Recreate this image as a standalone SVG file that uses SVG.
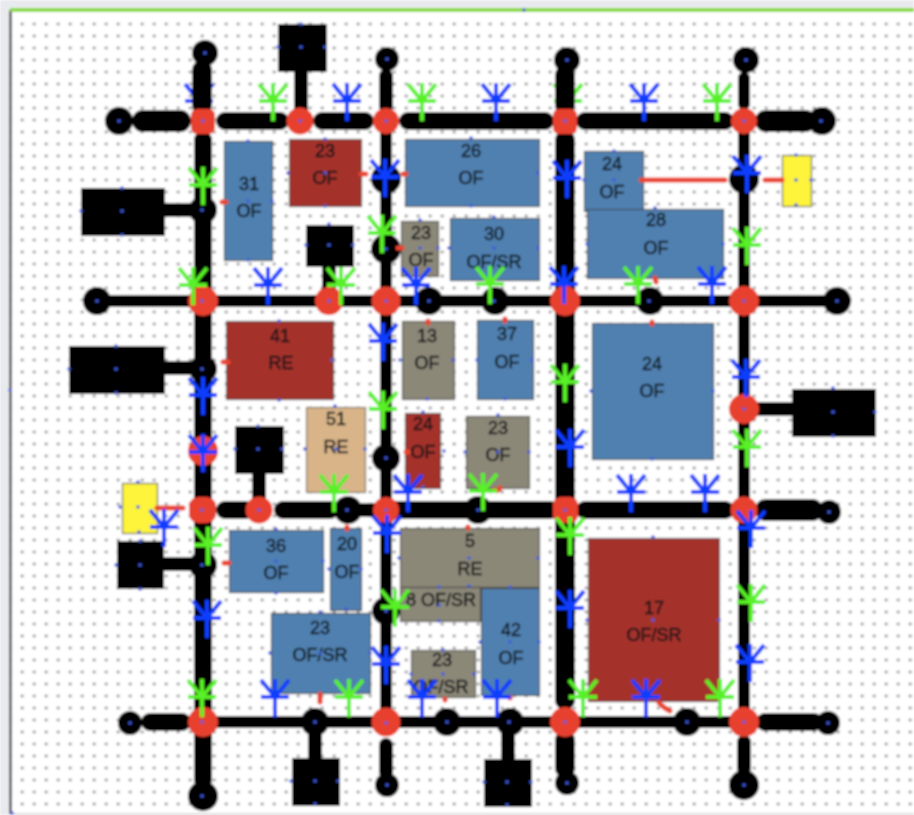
<svg xmlns="http://www.w3.org/2000/svg" width="914" height="815" viewBox="0 0 914 815">
<style>
.bg{fill:#e8eaee}
.sheet{fill:#fff}
.b{fill:#5080b0;stroke:#45494e;stroke-width:1.200}
.r{fill:#a4322c;stroke:#5e4a48;stroke-width:1.200}
.g{fill:#8c8878;stroke:#4c4c48;stroke-width:1.200}
.t{fill:#d8b488;stroke:#7a7060;stroke-width:1.200}
.y{fill:#fdf43a;stroke:#5c5c40;stroke-width:1.200}
.k{fill:#000}
.j{fill:#e8402e}
.roads line{stroke:#000;stroke-linecap:round;fill:none}
.w12{stroke-width:12}.w14{stroke-width:14}.w18{stroke-width:18}.w20{stroke-width:20}.w22{stroke-width:22}
.red path{stroke:#ea4530;stroke-width:5;fill:none;stroke-linecap:round}
.ag{stroke:#58f028}.ab{stroke:#0c3cff}
.ag,.ab{fill:none;stroke-width:4}
text{font-family:"Liberation Sans",Arial,sans-serif;font-size:18px;fill:#101418;stroke:#101418;stroke-width:0.500;text-anchor:middle}
.h circle{fill:#3f5ce0}
</style>
<defs>
<pattern id="dots" x="0" y="6" width="12" height="12" patternUnits="userSpaceOnUse"><rect x="8.700" y="4.700" width="3" height="2.600" fill="#9a9a9a"/></pattern>
<path id="ant" d="M0,0V-38M-14,-37L0,-20L14,-37M-14,-20H14"/>
<filter id="soft" x="0" y="0" width="100%" height="100%"><feGaussianBlur stdDeviation="0.8"/></filter>
</defs>
<g filter="url(#soft)">
<rect class="bg" width="914" height="815"/>
<rect class="sheet" x="10" y="10" width="904" height="804"/>
<rect x="10" y="18" width="904" height="796" fill="url(#dots)"/>
<path d="M10.500,10V814" stroke="#444" stroke-width="2.500" fill="none"/>
<path d="M10,10H914" stroke="#7fd81e" stroke-width="3.500" fill="none"/>
<path d="M10,814H914" stroke="#c0c0c0" stroke-width="1" fill="none"/>

<g id="hidden-antennas"><use href="#ant" class="ab" x="199" y="121"/><use href="#ant" class="ag" x="568" y="121"/></g>

<g id="connectors" class="roads">
<line class="w22" x1="143" y1="121" x2="180" y2="121"/>
<line class="w18" x1="225" y1="121" x2="280" y2="121"/>
<line class="w18" x1="322" y1="121" x2="365" y2="121"/>
<line class="w18" x1="408" y1="121" x2="545" y2="121"/>
<line class="w18" x1="585" y1="121" x2="725" y2="121"/>
<line class="w22" x1="766" y1="121" x2="805" y2="121"/>
<line class="w12" x1="110" y1="301" x2="825" y2="301"/>
<line class="w18" x1="225" y1="510" x2="245" y2="510"/>
<line class="w18" x1="283" y1="510" x2="330" y2="510"/>
<line class="w14" x1="360" y1="510" x2="380" y2="510"/>
<line class="w18" x1="395" y1="510" x2="550" y2="510"/>
<line class="w18" x1="585" y1="510" x2="725" y2="510"/>
<line class="w22" x1="766" y1="510" x2="812" y2="510"/>
<line class="w18" x1="150" y1="722" x2="182" y2="722"/>
<line class="w12" x1="203" y1="722" x2="744" y2="722"/>
<line class="w18" x1="765" y1="722" x2="814" y2="722"/>
<line class="w20" x1="202" y1="70" x2="202" y2="105"/>
<line class="w18" x1="203" y1="140" x2="203" y2="780"/>
<line class="w14" x1="386" y1="76" x2="386" y2="106"/>
<line class="w12" x1="386" y1="121" x2="386" y2="722"/>
<line class="w14" x1="386" y1="745" x2="386" y2="772"/>
<line class="w20" x1="565" y1="75" x2="565" y2="105"/>
<line class="w20" x1="565" y1="140" x2="565" y2="700"/>
<line class="w20" x1="565" y1="740" x2="565" y2="768"/>
<line class="w12" x1="744" y1="78" x2="744" y2="104"/>
<line class="w12" x1="744" y1="121" x2="744" y2="722"/>
<line class="w14" x1="744" y1="742" x2="744" y2="768"/>
<line class="w14" x1="301" y1="72" x2="301" y2="110"/>
<line class="w14" x1="165" y1="210" x2="203" y2="210"/>
<line class="w14" x1="329" y1="267" x2="329" y2="300"/>
<line class="w14" x1="165" y1="368" x2="203" y2="368"/>
<line class="w14" x1="744" y1="409" x2="795" y2="409"/>
<line class="w14" x1="259" y1="474" x2="259" y2="500"/>
<line class="w14" x1="164" y1="564" x2="203" y2="564"/>
<line class="w14" x1="315" y1="722" x2="315" y2="760"/>
<line class="w14" x1="508" y1="722" x2="508" y2="760"/>
</g>

<g id="n31"><rect class="b" x="224.500" y="141.500" width="48" height="119"/><text x="249" y="190">31</text><text x="249" y="217">OF</text></g>
<g id="n23a"><rect class="r" x="289.500" y="139.500" width="72" height="67"/><text x="325" y="157">23</text><text x="325" y="184">OF</text></g>
<g id="n26"><rect class="b" x="405.500" y="139.500" width="134" height="67"/><text x="471" y="157">26</text><text x="471" y="184">OF</text></g>
<g id="n24a"><rect class="b" x="584.500" y="151.500" width="59" height="60"/><text x="612" y="170">24</text><text x="612" y="198">OF</text></g>
<g id="n28"><rect class="b" x="587.500" y="209.500" width="136" height="69"/><text x="656" y="226">28</text><text x="656" y="254">OF</text></g>
<g id="n23b"><rect class="g" x="401.500" y="221.500" width="37" height="55"/><text x="421" y="239">23</text><text x="421" y="266">OF</text></g>
<g id="n30"><rect class="b" x="450.500" y="218.500" width="89" height="62"/><text x="494" y="240">30</text><text x="494" y="268">OF/SR</text></g>
<g id="n41"><rect class="r" x="226.500" y="321.500" width="107" height="78"/><text x="280" y="342">41</text><text x="281" y="369">RE</text></g>
<g id="n13"><rect class="g" x="402.500" y="321.500" width="52" height="78"/><text x="427" y="342">13</text><text x="427" y="369">OF</text></g>
<g id="n37"><rect class="b" x="477.500" y="320.500" width="56" height="79"/><text x="507" y="340">37</text><text x="507" y="368">OF</text></g>
<g id="n24b"><rect class="b" x="592.500" y="323.500" width="121" height="136"/><text x="652" y="370">24</text><text x="652" y="397">OF</text></g>
<g id="n51"><rect class="t" x="306.500" y="407.500" width="59" height="85"/><text x="336" y="425">51</text><text x="336" y="453">RE</text></g>
<g id="n24c"><rect class="r" x="405.500" y="413.500" width="35" height="75"/><text x="423" y="430">24</text><text x="423" y="458">OF</text></g>
<g id="n23c"><rect class="g" x="466.500" y="416.500" width="63" height="72"/><text x="498" y="434">23</text><text x="498" y="461">OF</text></g>
<g id="n36"><rect class="b" x="229.500" y="530.500" width="94" height="62"/><text x="276" y="552">36</text><text x="276" y="579">OF</text></g>
<g id="n20"><rect class="b" x="330.500" y="528.500" width="31" height="82"/><text x="347" y="550">20</text><text x="347" y="578">OF</text></g>
<g id="n5"><rect class="g" x="400.500" y="528.500" width="139" height="59"/><text x="470" y="547">5</text><text x="470" y="575">RE</text></g>
<g id="n8"><rect class="g" x="400.500" y="587.500" width="80" height="34"/><text x="441" y="606">8 OF/SR</text></g>
<g id="n23d"><rect class="b" x="271.500" y="613.500" width="99" height="80"/><text x="320" y="634">23</text><text x="320" y="661">OF/SR</text></g>
<g id="n42"><rect class="b" x="481.500" y="588.500" width="58" height="107"/><text x="511" y="636">42</text><text x="511" y="664">OF</text></g>
<g id="n17"><rect class="r" x="588.500" y="538.500" width="131" height="163"/><text x="654" y="614">17</text><text x="654" y="641">OF/SR</text></g>
<g id="n23e"><rect class="g" x="411.500" y="650.500" width="64" height="47"/><text x="442" y="666">23</text><text x="441" y="693">OF/SR</text></g>
<g id="y1"><rect class="y" x="782.500" y="155.500" width="29" height="51"/></g>
<g id="y2"><rect class="y" x="122.500" y="483.500" width="35" height="50"/></g>

<g id="blocks">
<rect class="k" x="278" y="24" width="49" height="48"/>
<rect class="k" x="81" y="188" width="84" height="48"/>
<rect class="k" x="306" y="225" width="48" height="42"/>
<rect class="k" x="69" y="346" width="96" height="48"/>
<rect class="k" x="792" y="389" width="84" height="48"/>
<rect class="k" x="235" y="426" width="49" height="48"/>
<rect class="k" x="117" y="541" width="47" height="48"/>
<rect class="k" x="292" y="758" width="48" height="48"/>
<rect class="k" x="484" y="759" width="48" height="48"/>
</g>

<g id="ends">
<circle class="k" cx="205" cy="53" r="13"/><circle class="k" cx="387" cy="59" r="12"/><circle class="k" cx="567" cy="60" r="13"/><circle class="k" cx="746" cy="60" r="13"/>
<circle class="k" cx="119" cy="121" r="14"/><circle class="k" cx="822" cy="121" r="14"/><circle class="k" cx="97" cy="301" r="14"/><circle class="k" cx="837" cy="301" r="14"/>
<circle class="k" cx="203" cy="210" r="14"/><circle class="k" cx="386" cy="179" r="15"/><circle class="k" cx="386" cy="249" r="15"/><circle class="k" cx="429" cy="301" r="14"/><circle class="k" cx="495" cy="301" r="14"/><circle class="k" cx="650" cy="301" r="14"/><circle class="k" cx="744" cy="179" r="15"/>
<circle class="k" cx="203" cy="369" r="14"/><circle class="k" cx="386" cy="458" r="14"/><circle class="k" cx="348" cy="510" r="14"/><circle class="k" cx="478" cy="510" r="14"/><circle class="k" cx="829" cy="512" r="12"/>
<circle class="k" cx="203" cy="565" r="14"/><circle class="k" cx="386" cy="611" r="14"/><circle class="k" cx="130" cy="723" r="12"/><circle class="k" cx="315" cy="722" r="14"/><circle class="k" cx="447" cy="722" r="14"/><circle class="k" cx="510" cy="722" r="14"/><circle class="k" cx="687" cy="722" r="14"/><circle class="k" cx="828" cy="723" r="12"/>
<circle class="k" cx="203" cy="796" r="15"/><circle class="k" cx="387" cy="785" r="12"/><circle class="k" cx="567" cy="783" r="12"/><circle class="k" cx="744" cy="785" r="15"/>
</g>

<g id="junctions">
<rect class="j" x="191" y="109" width="24" height="25" rx="6"/><circle class="j" cx="300" cy="121" r="13.500"/><circle class="j" cx="386" cy="121" r="13"/><rect class="j" x="553" y="109" width="24" height="25" rx="6"/><circle class="j" cx="744" cy="121" r="13"/>
<circle class="j" cx="203" cy="301" r="15"/><circle class="j" cx="329" cy="301" r="14"/><circle class="j" cx="386" cy="301" r="14.500"/><circle class="j" cx="565" cy="301" r="15"/><circle class="j" cx="744" cy="301" r="15"/><circle class="j" cx="744" cy="409" r="15"/>
<circle class="j" cx="203" cy="451" r="15"/><rect class="j" x="189" y="497" width="27" height="26" rx="9"/><circle class="j" cx="259" cy="510" r="13.500"/><circle class="j" cx="386" cy="510" r="13"/><rect class="j" x="553" y="497" width="25" height="26" rx="8"/><circle class="j" cx="744" cy="510" r="13.500"/>
<circle class="j" cx="203" cy="722" r="15"/><circle class="j" cx="386" cy="722" r="14.500"/><circle class="j" cx="565" cy="722" r="15"/><circle class="j" cx="744" cy="722" r="15"/>
</g>

<g id="red-links" class="red">
<path d="M641,180H725"/><path d="M765,180H782"/><path d="M157,508H183"/><path d="M659,703Q664,708 670,711"/>
<path d="M222,202H226"/><path d="M361,174H366"/><path d="M403,174H406"/><path d="M398,248H402"/><path d="M655,278L656,282"/><path d="M505,319V321"/><path d="M652,322V324"/><path d="M428,321V323"/><path d="M223,362H228"/><path d="M224,563H229"/><path d="M347,527V529"/><path d="M320,694V702"/><path d="M445,699V700"/><path d="M510,697V698"/><path d="M406,452H408"/><path d="M468,527V528"/><path d="M494,490Q499,492 500,488"/>
</g>

<g id="antennas-green" class="ag">
<use href="#ant" x="273" y="121"/><use href="#ant" x="422" y="121"/><use href="#ant" x="717" y="121"/><use href="#ant" x="203" y="205"/><use href="#ant" x="193" y="305"/><use href="#ant" x="382" y="253"/><use href="#ant" x="341" y="305"/><use href="#ant" x="490" y="304"/><use href="#ant" x="638" y="304"/><use href="#ant" x="747" y="265"/><use href="#ant" x="565" y="402"/><use href="#ant" x="383" y="429"/><use href="#ant" x="747" y="467"/><use href="#ant" x="334" y="512"/><use href="#ant" x="483" y="511"/><use href="#ant" x="570" y="555"/><use href="#ant" x="208" y="565"/><use href="#ant" x="395" y="627"/><use href="#ant" x="751" y="622"/><use href="#ant" x="202" y="717"/><use href="#ant" x="349" y="717"/><use href="#ant" x="583" y="717"/><use href="#ant" x="720" y="717"/>
</g>
<g id="antennas-blue" class="ab">
<use href="#ant" x="347" y="121"/><use href="#ant" x="496" y="121"/><use href="#ant" x="644" y="121"/><use href="#ant" x="385" y="197"/><use href="#ant" x="567" y="198"/><use href="#ant" x="747" y="193"/><use href="#ant" x="268" y="305"/><use href="#ant" x="416" y="305"/><use href="#ant" x="564" y="304"/><use href="#ant" x="712" y="304"/><use href="#ant" x="383" y="361"/><use href="#ant" x="203" y="415"/><use href="#ant" x="746" y="397"/><use href="#ant" x="203" y="472"/><use href="#ant" x="570" y="467"/><use href="#ant" x="631" y="512"/><use href="#ant" x="705" y="512"/><use href="#ant" x="408" y="512"/><use href="#ant" x="164" y="547"/><use href="#ant" x="387" y="553"/><use href="#ant" x="751" y="548"/><use href="#ant" x="207" y="638"/><use href="#ant" x="570" y="628"/><use href="#ant" x="750" y="682"/><use href="#ant" x="386" y="684"/><use href="#ant" x="275" y="717"/><use href="#ant" x="422" y="717"/><use href="#ant" x="497" y="717"/><use href="#ant" x="646" y="717"/>
</g>

<g id="handles" class="h">
<circle cx="248" cy="141" r="1.800"/><circle cx="248" cy="201" r="1.800"/><circle cx="272" cy="201" r="1.800"/><circle cx="248" cy="260" r="1.800"/>
<circle cx="325" cy="139" r="1.800"/><circle cx="288" cy="173" r="1.800"/><circle cx="325" cy="173" r="1.800"/><circle cx="325" cy="206" r="1.800"/>
<circle cx="471" cy="138" r="1.800"/><circle cx="538" cy="173" r="1.800"/><circle cx="471" cy="206" r="1.800"/>
<circle cx="614" cy="151" r="1.800"/><circle cx="584" cy="180" r="1.800"/><circle cx="614" cy="180" r="1.800"/>
<circle cx="655" cy="208" r="1.800"/><circle cx="587" cy="244" r="1.800"/><circle cx="723" cy="244" r="1.800"/>
<circle cx="420" cy="220" r="1.800"/><circle cx="420" cy="248" r="1.800"/><circle cx="438" cy="248" r="1.800"/><circle cx="449" cy="248" r="1.800"/><circle cx="494" cy="217" r="1.800"/><circle cx="494" cy="248" r="1.800"/><circle cx="538" cy="248" r="1.800"/>
<circle cx="279" cy="321" r="1.800"/><circle cx="279" cy="400" r="1.800"/><circle cx="332" cy="360" r="1.800"/>
<circle cx="400" cy="360" r="1.800"/><circle cx="427" cy="399" r="1.800"/><circle cx="453" cy="360" r="1.800"/><circle cx="477" cy="360" r="1.800"/><circle cx="505" cy="399" r="1.800"/><circle cx="532" cy="360" r="1.800"/>
<circle cx="591" cy="391" r="1.800"/><circle cx="713" cy="391" r="1.800"/><circle cx="652" cy="459" r="1.800"/>
<circle cx="335" cy="406" r="1.800"/><circle cx="305" cy="449" r="1.800"/><circle cx="336" cy="449" r="1.800"/><circle cx="365" cy="449" r="1.800"/>
<circle cx="423" cy="412" r="1.800"/><circle cx="444" cy="451" r="1.800"/><circle cx="423" cy="487" r="1.800"/><circle cx="498" cy="415" r="1.800"/><circle cx="465" cy="452" r="1.800"/><circle cx="498" cy="452" r="1.800"/><circle cx="529" cy="452" r="1.800"/>
<circle cx="276" cy="529" r="1.800"/><circle cx="276" cy="561" r="1.800"/><circle cx="323" cy="561" r="1.800"/><circle cx="276" cy="593" r="1.800"/><circle cx="329" cy="569" r="1.800"/><circle cx="361" cy="569" r="1.800"/><circle cx="346" cy="609" r="1.800"/>
<circle cx="399" cy="558" r="1.800"/><circle cx="469" cy="558" r="1.800"/><circle cx="538" cy="558" r="1.800"/><circle cx="469" cy="586" r="1.800"/><circle cx="439" cy="587" r="1.800"/><circle cx="439" cy="605" r="1.800"/><circle cx="439" cy="621" r="1.800"/><circle cx="510" cy="587" r="1.800"/>
<circle cx="320" cy="612" r="1.800"/><circle cx="270" cy="653" r="1.800"/><circle cx="320" cy="653" r="1.800"/><circle cx="370" cy="653" r="1.800"/>
<circle cx="480" cy="642" r="1.800"/><circle cx="510" cy="642" r="1.800"/><circle cx="539" cy="642" r="1.800"/>
<circle cx="443" cy="650" r="1.800"/><circle cx="411" cy="674" r="1.800"/><circle cx="443" cy="674" r="1.800"/><circle cx="474" cy="674" r="1.800"/>
<circle cx="653" cy="537" r="1.800"/><circle cx="587" cy="620" r="1.800"/><circle cx="653" cy="620" r="1.800"/><circle cx="719" cy="620" r="1.800"/>
<circle cx="796" cy="155" r="1.800"/><circle cx="796" cy="180" r="1.800"/><circle cx="811" cy="180" r="1.800"/><circle cx="796" cy="205" r="1.800"/>
<circle cx="138" cy="482" r="1.800"/><circle cx="120" cy="507" r="1.800"/><circle cx="138" cy="507" r="1.800"/><circle cx="139" cy="532" r="1.800"/>
<circle cx="301" cy="24" r="1.800"/><circle cx="278" cy="47" r="1.800"/><circle cx="301" cy="47" r="1.800"/><circle cx="325" cy="47" r="1.800"/>
<circle cx="122" cy="188" r="1.800"/><circle cx="81" cy="211" r="1.800"/><circle cx="122" cy="211" r="1.800"/><circle cx="122" cy="235" r="1.800"/>
<circle cx="329" cy="224" r="1.800"/><circle cx="306" cy="245" r="1.800"/><circle cx="329" cy="245" r="1.800"/><circle cx="353" cy="245" r="1.800"/>
<circle cx="116" cy="346" r="1.800"/><circle cx="69" cy="369" r="1.800"/><circle cx="116" cy="369" r="1.800"/><circle cx="116" cy="393" r="1.800"/>
<circle cx="833" cy="388" r="1.800"/><circle cx="833" cy="412" r="1.800"/><circle cx="875" cy="412" r="1.800"/><circle cx="833" cy="436" r="1.800"/>
<circle cx="258" cy="426" r="1.800"/><circle cx="235" cy="449" r="1.800"/><circle cx="258" cy="449" r="1.800"/><circle cx="282" cy="449" r="1.800"/>
<circle cx="140" cy="541" r="1.800"/><circle cx="116" cy="565" r="1.800"/><circle cx="140" cy="565" r="1.800"/><circle cx="140" cy="589" r="1.800"/>
<circle cx="291" cy="781" r="1.800"/><circle cx="315" cy="781" r="1.800"/><circle cx="338" cy="781" r="1.800"/><circle cx="315" cy="804" r="1.800"/>
<circle cx="484" cy="782" r="1.800"/><circle cx="507" cy="782" r="1.800"/><circle cx="531" cy="782" r="1.800"/><circle cx="507" cy="805" r="1.800"/>
<circle cx="205" cy="53" r="1.800"/><circle cx="387" cy="59" r="1.800"/><circle cx="567" cy="60" r="1.800"/><circle cx="746" cy="60" r="1.800"/><circle cx="119" cy="121" r="1.800"/><circle cx="203" cy="121" r="1.800"/><circle cx="300" cy="121" r="1.800"/><circle cx="386" cy="121" r="1.800"/><circle cx="565" cy="121" r="1.800"/><circle cx="744" cy="121" r="1.800"/><circle cx="821" cy="121" r="1.800"/>
<circle cx="202" cy="210" r="1.800"/><circle cx="386" cy="249" r="1.800"/><circle cx="97" cy="301" r="1.800"/><circle cx="202" cy="301" r="1.800"/><circle cx="329" cy="301" r="1.800"/><circle cx="386" cy="301" r="1.800"/><circle cx="429" cy="301" r="1.800"/><circle cx="494" cy="301" r="1.800"/><circle cx="565" cy="301" r="1.800"/><circle cx="649" cy="301" r="1.800"/><circle cx="744" cy="301" r="1.800"/><circle cx="837" cy="301" r="1.800"/>
<circle cx="202" cy="369" r="1.800"/><circle cx="744" cy="409" r="1.800"/><circle cx="386" cy="458" r="1.800"/><circle cx="202" cy="510" r="1.800"/><circle cx="259" cy="510" r="1.800"/><circle cx="347" cy="510" r="1.800"/><circle cx="386" cy="510" r="1.800"/><circle cx="478" cy="510" r="1.800"/><circle cx="565" cy="510" r="1.800"/><circle cx="829" cy="512" r="1.800"/>
<circle cx="202" cy="565" r="1.800"/><circle cx="386" cy="611" r="1.800"/><circle cx="130" cy="723" r="1.800"/><circle cx="202" cy="722" r="1.800"/><circle cx="315" cy="722" r="1.800"/><circle cx="386" cy="723" r="1.800"/><circle cx="447" cy="722" r="1.800"/><circle cx="509" cy="722" r="1.800"/><circle cx="565" cy="722" r="1.800"/><circle cx="687" cy="722" r="1.800"/><circle cx="744" cy="722" r="1.800"/><circle cx="828" cy="723" r="1.800"/>
<circle cx="202" cy="796" r="1.800"/><circle cx="387" cy="785" r="1.800"/><circle cx="567" cy="783" r="1.800"/><circle cx="744" cy="785" r="1.800"/>
<circle cx="524" cy="10" r="1.800"/><circle cx="10" cy="390" r="1.800"/><circle cx="12" cy="813" r="1.800"/>
</g>
</g>
</svg>
